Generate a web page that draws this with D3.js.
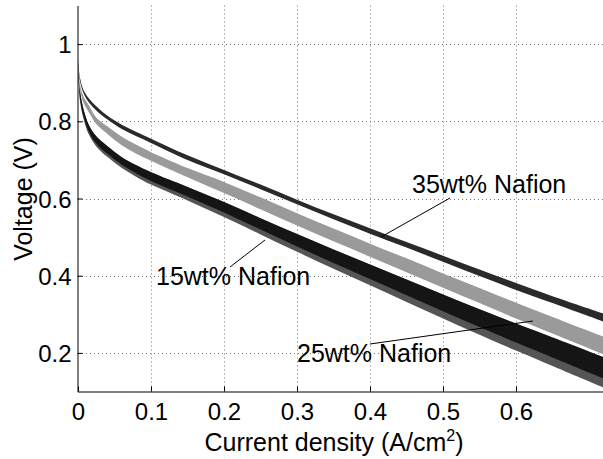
<!DOCTYPE html>
<html>
<head>
<meta charset="utf-8">
<script src="https://cdn.jsdelivr.net/npm/d3@7"></script>
<style>
  body { margin: 0; background: #fff; }
  svg { display: block; font-family: "Liberation Sans", Arial, sans-serif; }
</style>
</head>
<body>
<div id="chart"></div>
<script>
// current density samples (A/cm2)
var current = [0, 0.003, 0.008, 0.015, 0.025, 0.04, 0.06, 0.08, 0.1, 0.15, 0.2,
               0.25, 0.3, 0.35, 0.4, 0.45, 0.5, 0.55, 0.6, 0.65, 0.72];

// 35wt% Nafion band, upper / lower voltage (V)
var n35Hi = [0.960, 0.910, 0.879, 0.859, 0.839, 0.815, 0.791, 0.772, 0.755, 0.712, 0.674,
             0.636, 0.597, 0.559, 0.523, 0.487, 0.452, 0.416, 0.381, 0.347, 0.302];
var n35Lo = [0.955, 0.902, 0.871, 0.849, 0.828, 0.805, 0.780, 0.761, 0.744, 0.700, 0.663,
             0.624, 0.585, 0.546, 0.509, 0.473, 0.436, 0.399, 0.363, 0.329, 0.281];

// 25wt% Nafion band
var n25Hi = [0.957, 0.893, 0.862, 0.841, 0.810, 0.787, 0.760, 0.739, 0.720, 0.679, 0.643,
             0.603, 0.562, 0.522, 0.483, 0.445, 0.406, 0.368, 0.330, 0.293, 0.242];
var n25Lo = [0.952, 0.880, 0.846, 0.823, 0.793, 0.768, 0.738, 0.716, 0.698, 0.655, 0.614,
             0.572, 0.530, 0.489, 0.449, 0.409, 0.369, 0.329, 0.289, 0.250, 0.196];

// 15wt% Nafion band
var n15Hi = [0.952, 0.875, 0.828, 0.790, 0.761, 0.736, 0.707, 0.686, 0.668, 0.630, 0.591,
             0.549, 0.508, 0.468, 0.429, 0.390, 0.351, 0.313, 0.276, 0.240, 0.189];
var n15Lo = [0.947, 0.849, 0.803, 0.765, 0.735, 0.708, 0.679, 0.656, 0.636, 0.595, 0.552,
             0.507, 0.462, 0.418, 0.375, 0.332, 0.289, 0.247, 0.206, 0.166, 0.110];

var xTicks = [0, 0.1, 0.2, 0.3, 0.4, 0.5, 0.6];
var yTicks = [0.2, 0.4, 0.6, 0.8, 1];

var width = 603, height = 459;
var plotL = 78, plotR = 603.6, plotT = 5.5, plotB = 391.5;

var svg = d3.select('#chart').append('svg')
    .attr('width', width)
    .attr('height', height);

var x = d3.scaleLinear().domain([0, 0.72]).range([plotL, plotR]);
var y = d3.scaleLinear().domain([0.1, 1.1]).range([plotB, plotT]);

var defs = svg.append('defs');
defs.append('clipPath').attr('id', 'plot')
    .append('rect')
    .attr('x', plotL).attr('y', plotT)
    .attr('width', plotR - plotL).attr('height', plotB - plotT);

// grid
var grid = svg.append('g')
    .attr('stroke', '#777')
    .attr('stroke-width', 1)
    .attr('stroke-dasharray', '1,3');

grid.selectAll('line.vg')
    .data(xTicks.slice(1))
    .enter().append('line')
    .attr('class', 'vg')
    .attr('x1', function(d) { return Math.round(x(d)) + 0.5; })
    .attr('x2', function(d) { return Math.round(x(d)) + 0.5; })
    .attr('y1', plotT)
    .attr('y2', plotB);

grid.selectAll('line.hg')
    .data(yTicks)
    .enter().append('line')
    .attr('class', 'hg')
    .attr('x1', plotL)
    .attr('x2', width)
    .attr('y1', function(d) { return Math.round(y(d)) + 0.5; })
    .attr('y2', function(d) { return Math.round(y(d)) + 0.5; });

// bands (each one is a bundle of many overlapping curves)
var bands = svg.append('g').attr('clip-path', 'url(#plot)');

function band(hi, lo, fill) {
    var area = d3.area()
        .x(function(d, i) { return x(current[i]); })
        .y0(function(d, i) { return y(lo[i]); })
        .y1(function(d, i) { return y(hi[i]); })
        .curve(d3.curveCatmullRom.alpha(0.5));
    bands.append('path')
        .datum(current)
        .attr('d', area)
        .attr('fill', fill);
}

// 15wt%: speckled lower edge, dense core
band(n15Hi, n15Lo, '#555');
band(n15Hi, n15Hi.map(function(v, i) { return v - 0.7 * (v - n15Lo[i]); }), '#151515');
band(n25Hi, n25Lo, '#9a9a9a');
band(n35Hi, n35Lo, '#2a2a2a');

// axes
var xAxis = d3.axisBottom(x).tickValues(xTicks).tickSizeInner(-5).tickSizeOuter(0)
    .tickFormat(function(d) { return d === 0 ? '0' : d3.format('.1f')(d); });
var yAxis = d3.axisLeft(y).tickValues(yTicks).tickSizeInner(-5).tickSizeOuter(0)
    .tickFormat(function(d) { return d === 1 ? '1' : d3.format('.1f')(d); });

var gx = svg.append('g')
    .attr('transform', 'translate(0,' + plotB + ')')
    .call(xAxis);
gx.select('.domain').attr('stroke', '#000').attr('d', 'M' + plotL + ',0.5H' + width);
gx.selectAll('.tick line').attr('stroke', '#000');
gx.selectAll('.tick text')
    .attr('fill', '#000')
    .attr('font-size', 24)
    .attr('font-family', '"Liberation Sans", Arial, sans-serif')
    .attr('y', 28)
    .attr('dy', 0);

var gy = svg.append('g')
    .attr('transform', 'translate(' + (plotL - 0.5) + ',0)')
    .call(yAxis);
gy.select('.domain').attr('stroke', '#000');
gy.selectAll('.tick line').attr('stroke', '#000');
gy.selectAll('.tick text')
    .attr('fill', '#000')
    .attr('font-size', 24)
    .attr('font-family', '"Liberation Sans", Arial, sans-serif')
    .attr('x', -6)
    .attr('dy', '0.36em');

// axis titles
var xt = svg.append('text')
    .attr('x', 334)
    .attr('y', 451)
    .attr('text-anchor', 'middle')
    .attr('font-size', 25)
    .text('Current density (A/cm');
xt.append('tspan').attr('font-size', 16).attr('dy', -10).text('2');
xt.append('tspan').attr('dy', 10).text(')');

svg.append('text')
    .attr('transform', 'translate(32,199) rotate(-90)')
    .attr('text-anchor', 'middle')
    .attr('font-size', 25)
    .text('Voltage (V)');

// annotations
var notes = svg.append('g').attr('font-size', 25);

notes.append('line').attr('x1', 450).attr('y1', 198).attr('x2', 381).attr('y2', 237)
    .attr('stroke', '#000').attr('stroke-width', 1);
notes.append('text').attr('x', 412).attr('y', 193).text('35wt% Nafion');

notes.append('line').attr('x1', 230).attr('y1', 267).attr('x2', 265).attr('y2', 240)
    .attr('stroke', '#000').attr('stroke-width', 1);
notes.append('text').attr('x', 156).attr('y', 285).text('15wt% Nafion');

notes.append('line').attr('x1', 370).attr('y1', 344).attr('x2', 533).attr('y2', 321)
    .attr('stroke', '#000').attr('stroke-width', 1);
notes.append('text').attr('x', 297).attr('y', 362).text('25wt% Nafion');
</script>
</body>
</html>
